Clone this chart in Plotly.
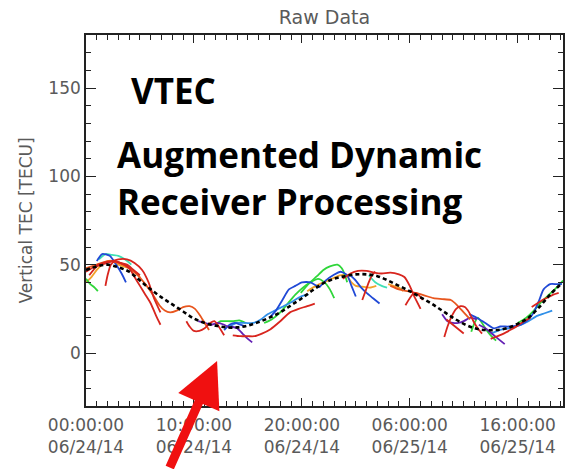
import pandas as pd
import plotly.graph_objects as go

# Start of the observation window; arc times are hours after this instant
START = pd.Timestamp("2014-06-24 00:00:00")
END_HOURS = 44.2

# Reference (fitted) VTEC curve, hourly
ref_hours = list(range(0, 45))
ref_tecu = [47, 49, 50, 48.5, 46, 41, 36, 31.5, 27.5, 23.5, 19.5, 17, 15.5, 14.5, 14.5, 15.5,
            17.5, 20, 23, 27, 31, 35.5, 39.5, 42, 43.5, 44.5, 44.5, 43.5, 41, 38, 35, 31.5,
            28, 24, 20, 16.5, 14, 13, 13, 14, 16.5, 20, 26, 33, 39]

# Per-satellite arcs, grouped by colour: hours after START and VTEC [TECU]
red_hours = [
    [0, 0.8, 1.6, 2.4, 3.2, 4.0, 4.5, 5.0, 5.5, 6.0, 6.5, 6.9],
    [0.3, 1.0, 2.0, 3.0, 3.8, 4.5, 5.2, 5.8, 6.3, 6.9],
    [1.8, 2.0, 2.3, 2.7, 3.2, 3.8, 4.4, 5.0],
    [9.3, 9.6, 10.0, 10.5, 11.0, 11.5, 11.9, 12.3, 12.8],
    [13.6, 14.3, 15.0, 15.6, 16.3, 17.1, 18.0, 18.9, 19.7, 20.5, 21.2],
    [23.8, 24.5, 25.2, 26.0, 26.7, 27.4, 28.2, 29.0, 29.5, 30.0, 30.5, 31.0],
    [25.6, 25.9, 26.2, 26.5, 26.8],
    [29.6, 30.0, 30.4, 30.8, 31.2],
    [33.2, 33.5, 33.9, 34.3, 34.7, 35.1, 35.5, 35.9, 36.3, 36.7],
    [33.4, 33.8, 34.2, 34.6, 35.0],
    [37.5, 38.1, 38.7, 39.3, 40.0, 40.6, 41.2],
    [41.3, 41.8, 42.3, 42.8, 43.3, 43.8],
]
red_tecu = [
    [46, 49, 51, 52, 51, 48, 43, 38, 33, 28, 21, 16],
    [44, 49, 51, 53, 53, 51, 47, 40, 31, 23],
    [38, 44, 50, 52, 51, 50, 47, 44],
    [18, 15, 12.5, 12.5, 14, 17, 18, 15, 10],
    [10, 9.5, 9.5, 9.5, 11, 13.5, 18, 23, 25, 26.5, 28],
    [42, 45, 46.5, 46.5, 45.5, 45, 45.5, 44.5, 43, 38, 31, 25],
    [30, 35, 40, 44, 46],
    [27, 31, 34, 33, 30],
    [9, 15, 21, 25, 26.5, 26, 23, 18, 14, 11],
    [19, 17, 15, 13, 11],
    [8, 9.5, 11, 13, 15.5, 18, 20],
    [26, 28, 30, 31.5, 33, 34],
]

orangered_hours = [
    [0, 1, 2, 3, 4, 4.8, 5.5, 6.2, 6.8, 7.3, 7.8, 8.4, 9.0, 9.6, 10.1, 10.6, 11.0, 11.4],
    [28.2, 29.0, 29.8, 30.6, 31.4, 32.2, 33.0, 33.8, 34.4, 35.0, 35.6],
]
orangered_tecu = [
    [48, 50, 52, 51, 48, 44, 39, 33, 27, 24, 23, 24, 26, 26.5, 25, 21, 17, 13],
    [38, 36, 35, 34, 32.5, 31, 30.5, 30, 27, 23, 19],
]

orange_hours = [
    [0, 0.5, 1.0, 1.5, 2.0, 2.5, 3.0, 3.5, 4.0, 4.5, 5.0],
    [20.5, 21.3, 22.0, 22.8, 23.5, 24.1, 24.6, 25.0, 25.6, 26.3, 26.9],
    [28.0, 28.5, 29.0, 29.4],
]
orange_tecu = [
    [40, 43, 47, 50, 52, 52, 50, 49, 48, 46, 43],
    [35, 38, 40, 42, 44, 44, 40, 38, 37.5, 37, 38],
    [39, 38, 37, 35],
]

green_hours = [
    [0, 0.4, 0.8, 1.1],
    [12.0, 12.5, 13.0, 13.6, 14.2, 14.8],
    [16.5, 17.2, 18.0, 18.7, 19.4, 20.1, 20.8, 21.5, 22.1, 22.6, 23.0],
    [19.9, 20.6, 21.4, 22.0, 22.6, 23.3, 23.7, 24.0, 24.2],
    [35.7, 36.0, 36.3, 36.7, 37.1, 37.5, 38.0],
    [40.0, 40.8, 41.5, 42.2, 42.9, 43.6, 44.2],
]
green_tecu = [
    [42, 39, 37, 35],
    [16, 18, 18, 18, 18.5, 17],
    [17, 19, 23, 28, 33, 37, 40, 42, 40, 36, 31],
    [34, 39, 43.5, 47, 49, 50, 48, 44, 40],
    [12, 17, 20, 17, 13, 10, 7],
    [17, 20, 24, 29, 33, 37, 41],
]

teal_hours = [
    [1.2, 1.8, 2.4, 3.0, 3.6, 4.2],
    [26.2, 26.8, 27.4, 27.9],
]
teal_tecu = [
    [53, 56, 55.5, 55, 53, 50],
    [44, 40, 38, 37],
]

blue_hours = [
    [1.0, 1.5, 2.2, 2.8, 3.3, 3.7],
    [12.8, 13.3, 13.8, 14.3, 14.8],
    [17.0, 17.6, 18.2, 18.8, 19.4, 20.0, 20.8, 21.6],
    [21.6, 22.2, 22.9, 23.6, 24.2, 24.6, 25.0],
    [24.5, 25.0, 25.5, 26.0, 26.6, 27.2],
    [35.5, 36.2, 37.0, 37.8, 38.4, 39.2, 40.3, 41.0, 41.5, 42.0, 42.4, 43.0, 43.6, 44.1],
]
blue_tecu = [
    [52, 56, 55, 50, 45, 40],
    [13, 16, 17, 16, 15],
    [20, 24, 30, 36, 38, 40, 40, 37],
    [37, 41, 44, 46, 44, 38, 32],
    [44, 41, 37, 34, 31, 28],
    [22, 20, 17, 14, 15, 15, 16, 19, 23, 30, 36, 39, 39, 39],
]

lightblue_hours = [
    [13.3, 14.0, 14.8, 15.5, 16.2, 16.8, 17.5, 18.3, 19.1, 19.9, 20.6],
    [37.5, 38.3, 39.2, 40.1, 41.0, 41.8, 42.5, 43.2],
]
lightblue_tecu = [
    [15, 17, 17, 17, 19, 21.8, 24, 26.5, 29, 32, 33],
    [11, 13, 14, 15.5, 18, 21, 22.5, 24],
]

purple_hours = [
    [10.4, 11.0, 11.6, 12.2, 12.8, 13.4],
    [13.4, 14.0, 14.5, 15.0, 15.4],
    [33.0, 33.5, 34.0, 34.5, 35.0, 35.6, 36.2],
    [36.4, 37.0, 37.6, 38.2, 38.8],
]
purple_tecu = [
    [18, 17, 16, 17, 16, 14],
    [15, 14, 11, 8, 6],
    [22, 18, 17, 17, 18, 20, 19],
    [16, 14, 11, 8, 5],
]

arc_groups = [
    (orange_hours, orange_tecu, "#f2a22a"),
    (teal_hours, teal_tecu, "#3fe0b4"),
    (green_hours, green_tecu, "#2fd63a"),
    (lightblue_hours, lightblue_tecu, "#2f8fe8"),
    (blue_hours, blue_tecu, "#2049d6"),
    (purple_hours, purple_tecu, "#6420b4"),
    (orangered_hours, orangered_tecu, "#e8561e"),
    (red_hours, red_tecu, "#d8251e"),
]


def to_time(hours):
    return START + pd.to_timedelta(hours, unit="h")


fig = go.Figure()
for hours_list, tecu_list, color in arc_groups:
    for hrs, vals in zip(hours_list, tecu_list):
        fig.add_trace(go.Scatter(
            x=to_time(hrs), y=vals, mode="lines",
            line=dict(color=color, width=1.8, shape="spline", smoothing=0.6),
            showlegend=False, hoverinfo="skip"))

fig.add_trace(go.Scatter(
    x=to_time(ref_hours), y=ref_tecu, mode="lines",
    line=dict(color="black", width=2.6, dash="4px,3px", shape="spline"),
    showlegend=False, hoverinfo="skip"))

LABEL_GRAY = "#5a5a5a"
tick_font = dict(family="DejaVu Sans", size=17, color=LABEL_GRAY)

fig.update_layout(
    width=577, height=469,
    margin=dict(l=86, r=14, t=35, b=63),
    paper_bgcolor="white", plot_bgcolor="white",
    title=dict(text="Raw Data", x=0.5, xref="paper", y=1 - 17 / 469,
               yanchor="middle", font=dict(family="DejaVu Sans", size=19, color=LABEL_GRAY)),
    xaxis=dict(
        type="date",
        range=[START, to_time(END_HOURS)],
        tick0=START, dtick=10 * 3600 * 1000,
        tickformat="%H:%M:%S<br>%m/%d/%y",
        ticks="inside", ticklen=8, tickwidth=1.2, tickcolor="#222",
        minor=dict(ticks="inside", ticklen=5, dtick=3600 * 1000, tickcolor="#222", tickwidth=1.2),
        showline=True, linecolor="#222", linewidth=1.6, mirror="allticks",
        showgrid=False, zeroline=False, tickfont=tick_font, ticklabelstandoff=3,
    ),
    yaxis=dict(
        range=[-30, 180], tick0=0, dtick=50,
        ticks="inside", ticklen=10, tickwidth=1.2, tickcolor="#222",
        minor=dict(ticks="inside", ticklen=5, dtick=10, tickcolor="#222", tickwidth=1.2),
        showline=True, linecolor="#222", linewidth=1.6, mirror="allticks",
        showgrid=False, zeroline=False, tickfont=tick_font,
    ),
)

bold_font = dict(family="Open Sans", size=35, color="black")
fig.add_annotation(text="<b>VTEC</b>", xref="paper", yref="paper",
                   x=(129 - 86) / 476.7, y=(406 - 90) / 371, xanchor="left", yanchor="middle",
                   showarrow=False, font=bold_font)
fig.add_annotation(text="<b>Augmented Dynamic</b>", xref="paper", yref="paper",
                   x=(115 - 86) / 476.7, y=(406 - 154) / 371, xanchor="left", yanchor="middle",
                   showarrow=False, font=bold_font)
fig.add_annotation(text="<b>Receiver Processing</b>", xref="paper", yref="paper",
                   x=(115 - 86) / 476.7, y=(406 - 201) / 371, xanchor="left", yanchor="middle",
                   showarrow=False, font=bold_font)

# Axis title
fig.add_annotation(text="Vertical TEC [TECU]", xref="paper", yref="paper",
                   x=(26 - 86) / 476.7, y=0.5, xanchor="center", yanchor="middle",
                   textangle=-90, showarrow=False,
                   font=dict(family="DejaVu Sans", size=17, color=LABEL_GRAY))

# Red pointer arrow into the plot
fig.add_annotation(text="", xref="paper", yref="paper",
                   x=(217 - 86) / 476.7, y=(406 - 361) / 371,
                   ax=-48, ay=127, showarrow=True,
                   arrowhead=2, arrowsize=1.0, arrowwidth=9, arrowcolor="#f01010",
                   standoff=0)

fig.write_html("out.html")
